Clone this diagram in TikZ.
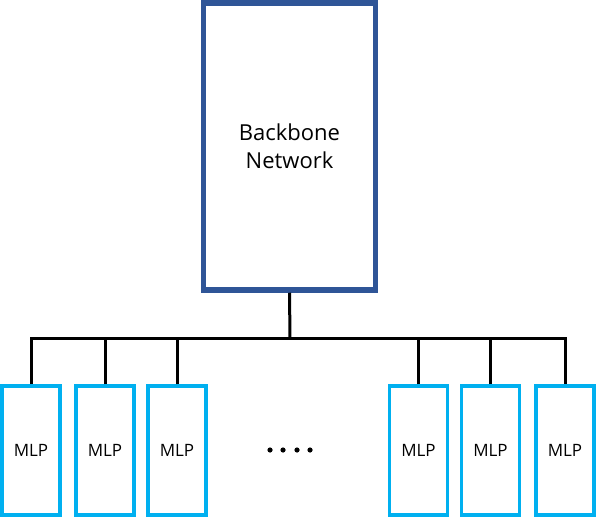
\documentclass[tikz,border=0pt]{standalone}
\usepackage{fontspec}
\setmainfont{Open Sans}
\definecolor{backblue}{HTML}{2F5597}
\definecolor{mlpblue}{HTML}{00B0F0}

\begin{document}
\begin{tikzpicture}[x=1pt,y=-1pt,style=thick,
	backbone/.style={draw=backblue,line width=5.5pt,minimum width=172pt,minimum height=287pt,
		align=center,font=\fontsize{22}{28}\selectfont},
	mlp/.style={draw=mlpblue,line width=3.5pt,minimum width=58pt,minimum height=129pt,
		font=\fontsize{17}{20}\selectfont},
	link/.style={line width=3pt}]
	\useasboundingbox (0,0) rectangle (596,518);
	\node[backbone] (bb) at (289.5,146.5) {Backbone\\Network};
	\node[mlp] (m1) at (31,450.5) {MLP};
	\node[mlp] (m2) at (105,450.5) {MLP};
	\node[mlp] (m3) at (177,450.5) {MLP};
	\node[mlp] (m4) at (418.5,450.5) {MLP};
	\node[mlp] (m5) at (490.5,450.5) {MLP};
	\node[mlp] (m6) at (565,450.5) {MLP};
	\coordinate (bus) at (290,338);
	
	\draw[link] (bb.south) -- (bus);
	\draw[link] (m1.north) |- (bus) -| (m6.north);
	\foreach \m in {m2,m3,m4,m5}{
		\draw[link] (\m.north) -- (\m.north |- bus);
	}
	\foreach \x in {270,283,297,310}{
		\fill (\x,450) circle (2.6pt);%dots
	}
\end{tikzpicture}
\end{document}
